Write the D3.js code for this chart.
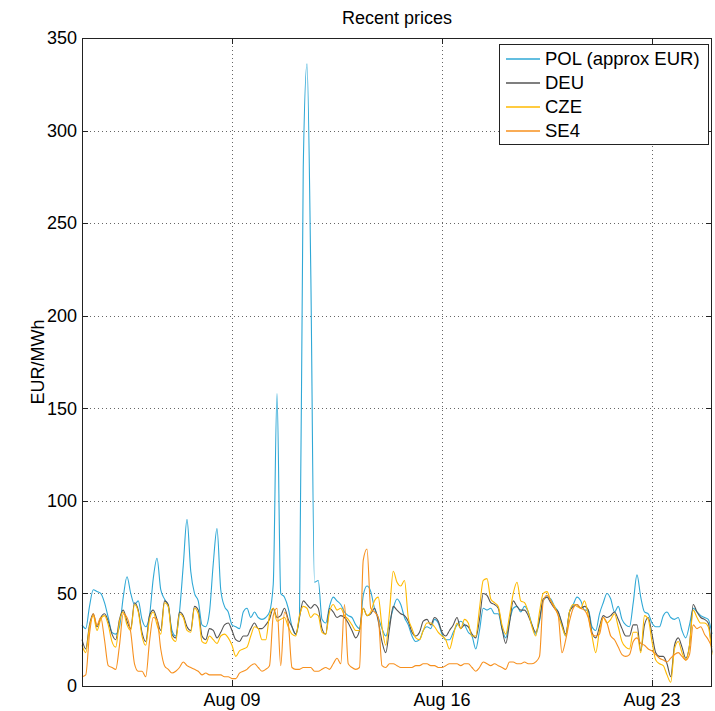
<!DOCTYPE html>
<html>
<head>
<meta charset="utf-8">
<title>Recent prices</title>
<script src="https://d3js.org/d3.v7.min.js"></script>
<style>
  body { margin: 0; background: #fff; }
  svg { display: block; font-family: "Liberation Sans", Arial, sans-serif; }
  .grid line { stroke: #000; stroke-opacity: 0.6; stroke-dasharray: 1,3; }
  .frame { fill: none; stroke: #222; stroke-width: 1; shape-rendering: crispEdges; }
  .axtick line { stroke: #222; shape-rendering: crispEdges; }
  .label { font-size: 18px; fill: #000; }
  .series { fill: none; stroke-width: 1.1; stroke-linejoin: round; }
</style>
</head>
<body>
<div id="chart"></div>
<script>
// one value every 3 hours, starting Aug 04 00:00
var startDay = new Date(2014, 7, 4);
var endDay = new Date(2014, 7, 25);
var stepHours = 3;

var xTickDates = [new Date(2014, 7, 9), new Date(2014, 7, 16), new Date(2014, 7, 23)];
var yTicks = [0, 50, 100, 150, 200, 250, 300, 350];

var seriesNames = ["POL (approx EUR)", "DEU", "CZE", "SE4"];
var seriesColors = ["#2fa8d6", "#555555", "#ffba00", "#f7901e"];

var polPrices = [
  33, 31, 43, 52, 51, 50, 45, 37,
  29, 28, 32, 48, 59, 50, 44, 46,
  36, 32, 38, 58, 69, 52, 47, 43,
  30, 27, 40, 65, 90, 62, 50, 46,
  33, 32, 40, 66, 85, 52, 43, 40,
  33, 32, 31, 40, 42, 37, 40, 37,
  36, 37, 40, 55, 158, 50, 48, 42,
  32, 28, 38, 280, 336, 225, 56, 57,
  36, 34, 43, 48, 46, 44, 40, 38,
  37, 33, 31, 49, 54, 51, 42, 37,
  31, 27, 34, 42, 47, 44, 37, 33,
  27, 24, 25, 30, 32, 31, 36, 34,
  28, 25, 25, 29, 33, 35, 33, 29,
  27, 20, 30, 42, 41, 42, 39, 39,
  31, 26, 35, 42, 43, 40, 43, 40,
  33, 28, 35, 46, 48, 47, 43, 40,
  33, 27, 40, 44, 48, 46, 41, 41,
  32, 30, 39, 45, 50, 47, 40, 43,
  36, 33, 32, 45, 60, 48, 40, 39,
  34, 32, 32, 38, 40, 37, 36, 37,
  30, 26, 33, 42, 40, 38, 37, 36,
  28
];

var deuPrices = [
  25, 20, 33, 39, 32, 37, 39, 35,
  28, 25, 36, 41, 35, 31, 45, 41,
  29, 24, 38, 41, 36, 30, 46, 44,
  28, 26, 40, 38, 32, 30, 43, 41,
  27, 25, 31, 30, 26, 29, 33, 34,
  30, 25, 24, 27, 27, 31, 34, 31,
  31, 33, 36, 42, 37, 38, 42, 36,
  32, 28, 37, 46, 44, 42, 44, 42,
  31, 28, 42, 40, 37, 38, 37, 34,
  30, 26, 30, 42, 38, 39, 42, 35,
  24, 18, 31, 43, 41, 39, 38, 35,
  29, 27, 29, 35, 36, 33, 37, 35,
  29, 27, 30, 33, 37, 31, 33, 32,
  28, 26, 36, 50, 49, 45, 44, 42,
  31, 23, 34, 46, 43, 41, 41, 38,
  33, 29, 36, 47, 48, 45, 42, 40,
  34, 28, 40, 43, 44, 42, 43, 41,
  29, 26, 32, 38, 37, 38, 40, 36,
  31, 27, 27, 33, 33, 19, 33, 37,
  28, 18, 16, 16, 12, 5, 22, 26,
  21, 15, 22, 44, 40, 37, 36, 34,
  18
];

var czePrices = [
  22, 18, 32, 38, 30, 36, 38, 33,
  24, 21, 35, 40, 33, 30, 44, 40,
  27, 22, 36, 40, 33, 28, 45, 43,
  26, 24, 39, 37, 30, 29, 42, 39,
  24, 23, 27, 25, 23, 27, 28, 26,
  22, 16, 19, 20, 21, 27, 32, 31,
  25, 25, 38, 42, 35, 36, 37, 32,
  28, 27, 38, 43, 42, 37, 39, 38,
  29, 28, 40, 44, 41, 42, 38, 36,
  33, 30, 30, 42, 38, 40, 46, 48,
  32, 22, 40, 62, 56, 54, 57, 37,
  31, 26, 25, 30, 34, 34, 32, 29,
  27, 25, 20, 27, 34, 31, 36, 34,
  27, 27, 42, 57, 58, 47, 45, 43,
  33, 28, 38, 50, 56, 46, 45, 40,
  32, 27, 40, 50, 51, 46, 43, 38,
  32, 27, 40, 44, 43, 42, 46, 38,
  27, 18, 30, 37, 34, 36, 39, 32,
  24, 21, 20, 29, 29, 18, 38, 36,
  24, 14, 12, 11, 6, 2, 20, 24,
  18, 14, 22, 41, 37, 34, 34, 32,
  17
];

var se4Prices = [
  5, 6, 28, 39, 33, 37, 25, 11,
  10, 9, 22, 39, 37, 29, 12, 8,
  8, 5, 24, 37, 36, 20, 11, 9,
  7, 8, 10, 13, 11, 10, 9, 8,
  6, 7, 6, 6, 6, 6, 5, 5,
  4, 4, 7, 8, 9, 11, 12, 10,
  8, 9, 11, 38, 42, 11, 40, 34,
  10, 9, 9, 10, 10, 10, 8, 8,
  9, 10, 9, 12, 15, 12, 44, 12,
  10, 9, 10, 68, 74, 42, 40, 37,
  11, 10, 12, 12, 11, 10, 10, 10,
  10, 11, 11, 12, 12, 11, 11, 10,
  10, 11, 12, 12, 12, 11, 12, 12,
  10, 8, 10, 13, 12, 11, 12, 11,
  10, 9, 13, 13, 12, 12, 13, 12,
  12, 13, 16, 46, 49, 46, 42, 38,
  18, 25, 35, 42, 44, 42, 41, 37,
  28, 27, 28, 37, 34, 27, 25, 21,
  17, 16, 17, 24, 26, 23, 22, 20,
  19, 17, 15, 14, 13, 15, 17, 18,
  16, 14, 17, 33, 31, 32, 28, 25,
  21
];

var allSeries = [polPrices, deuPrices, czePrices, se4Prices];

// layout (plot box in page pixels)
var W = 715, H = 711;
var plotLeft = 82, plotRight = 712, plotTop = 38, plotBottom = 686;

var svg = d3.select("#chart").append("svg")
    .attr("width", W)
    .attr("height", H);

var x = d3.scaleTime().domain([startDay, endDay]).range([plotLeft, plotRight]);
var y = d3.scaleLinear().domain([0, 350]).range([plotBottom, plotTop]);

var timeAt = i => d3.timeHour.offset(startDay, i * stepHours);

// dotted grid
var grid = svg.append("g").attr("class", "grid");
grid.selectAll(".gx")
    .data(xTickDates)
    .enter().append("line")
    .attr("x1", d => Math.round(x(d)) + 0.5)
    .attr("x2", d => Math.round(x(d)) + 0.5)
    .attr("y1", plotTop)
    .attr("y2", plotBottom);
grid.selectAll(".gy")
    .data(yTicks.slice(1, -1))
    .enter().append("line")
    .attr("x1", plotLeft)
    .attr("x2", plotRight)
    .attr("y1", d => Math.round(y(d)) + 0.5)
    .attr("y2", d => Math.round(y(d)) + 0.5);

// series lines, drawn in legend order
var line = d3.line()
    .curve(d3.curveMonotoneX)
    .x((d, i) => x(timeAt(i)))
    .y(d => y(d));

svg.append("g").selectAll("path")
    .data(allSeries)
    .enter().append("path")
    .attr("class", "series")
    .attr("stroke", (d, i) => seriesColors[i])
    .attr("d", line);

// axes box with inward ticks on all four sides
svg.append("rect")
    .attr("class", "frame")
    .attr("x", plotLeft + 0.5)
    .attr("y", plotTop + 0.5)
    .attr("width", plotRight - plotLeft - 1)
    .attr("height", plotBottom - plotTop);

var tickLen = 6;
var ticks = svg.append("g").attr("class", "axtick");
yTicks.forEach(v => {
    var yy = Math.round(y(v)) + 0.5;
    ticks.append("line").attr("x1", plotLeft).attr("x2", plotLeft + tickLen).attr("y1", yy).attr("y2", yy);
    ticks.append("line").attr("x1", plotRight - tickLen).attr("x2", plotRight).attr("y1", yy).attr("y2", yy);
});
xTickDates.forEach(d => {
    var xx = Math.round(x(d)) + 0.5;
    ticks.append("line").attr("x1", xx).attr("x2", xx).attr("y1", plotBottom).attr("y2", plotBottom - tickLen);
    ticks.append("line").attr("x1", xx).attr("x2", xx).attr("y1", plotTop).attr("y2", plotTop + tickLen);
});

// tick labels
svg.append("g").selectAll("text")
    .data(yTicks)
    .enter().append("text")
    .attr("class", "label")
    .attr("x", plotLeft - 5)
    .attr("y", d => y(d))
    .attr("dy", "0.35em")
    .attr("text-anchor", "end")
    .text(d => d);

var fmt = d3.timeFormat("%b %d");
svg.append("g").selectAll("text")
    .data(xTickDates)
    .enter().append("text")
    .attr("class", "label")
    .attr("x", d => x(d))
    .attr("y", 706)
    .attr("text-anchor", "middle")
    .text(d => fmt(d));

// title and y label
svg.append("text")
    .attr("class", "label")
    .attr("x", (plotLeft + plotRight) / 2)
    .attr("y", 24)
    .attr("text-anchor", "middle")
    .text("Recent prices");

svg.append("text")
    .attr("class", "label")
    .attr("transform", "translate(44," + (plotTop + plotBottom) / 2 + ") rotate(-90)")
    .attr("text-anchor", "middle")
    .text("EUR/MWh");

// legend
var legend = svg.append("g").attr("transform", "translate(499,44)");
legend.append("rect")
    .attr("x", 0.5).attr("y", 0.5)
    .attr("width", 209).attr("height", 100)
    .attr("fill", "#fff")
    .attr("stroke", "#222")
    .attr("shape-rendering", "crispEdges");

seriesNames.forEach((name, i) => {
    var yy = 15 + i * 24;
    legend.append("line")
        .attr("x1", 7).attr("x2", 41)
        .attr("y1", yy).attr("y2", yy)
        .style("stroke", seriesColors[i])
        .style("stroke-width", 1.5);
    legend.append("text")
        .attr("class", "label")
        .style("font-size", "18.5px")
        .attr("x", 46)
        .attr("y", yy)
        .attr("dy", "0.35em")
        .text(name);
});
</script>
</body>
</html>
